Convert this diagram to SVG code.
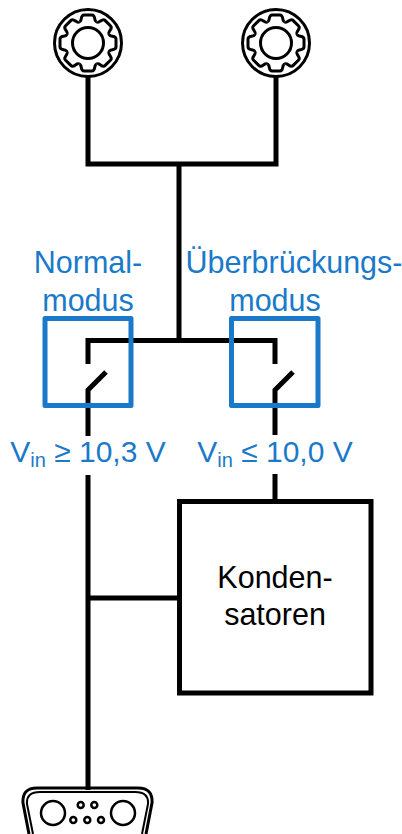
<svg xmlns="http://www.w3.org/2000/svg" xmlns:xlink="http://www.w3.org/1999/xlink" width="402" height="834" viewBox="0 0 402 834">
<style>
text{font-family:"Liberation Sans",Arial,sans-serif}
.b{fill:#1a7ac9;font-size:30.5px;text-anchor:middle}
.c{fill:#1a7ac9;font-size:30px;text-anchor:middle}
.k{fill:#000;font-size:30.5px;text-anchor:middle}
.w{fill:none;stroke:#000;stroke-width:5}
.s{fill:none;stroke:#1a7ac9;stroke-width:5;stroke-linejoin:round}
.g{fill:none;stroke:#000;stroke-width:3}
</style>
<defs>
<path id="t" class="g" d="M-8.8,-21.2C-5.5,-21.5-8,-28-4,-28L4,-28C8,-28 5.5,-21.5 8.8,-21.2"/>
<g id="gear">
<circle class="g" r="33.5"/><circle class="g" r="15.5"/>
<use xlink:href="#t"/><use xlink:href="#t" transform="rotate(45)"/><use xlink:href="#t" transform="rotate(90)"/><use xlink:href="#t" transform="rotate(135)"/><use xlink:href="#t" transform="rotate(180)"/><use xlink:href="#t" transform="rotate(225)"/><use xlink:href="#t" transform="rotate(270)"/><use xlink:href="#t" transform="rotate(315)"/>
</g>
</defs>
<g id="connectors">
<path class="w" d="M88,76V164H276V76M179,164V340M88,364V340.5H275V364"/>
<path class="w" d="M106,372L88,390V436M88,475V790M88,598H179"/>
<path class="w" d="M293,372L275,390V435M275,474V501"/>
</g>
<g id="gear-left"><use xlink:href="#gear" x="88" y="43"/></g>
<g id="gear-right"><use xlink:href="#gear" x="276" y="43"/></g>
<g id="switch-normal"><rect class="s" x="45" y="318.5" width="86" height="87"/>
<text class="b" x="88" y="273">Normal-</text><text class="b" x="88" y="311">modus</text></g>
<g id="switch-bypass"><rect class="s" x="231.5" y="318.5" width="86.5" height="87"/>
<text class="b" x="294" y="273">Überbrückungs-</text><text class="b" x="275" y="311">modus</text></g>
<g id="cond-left"><text class="c" x="88" y="462">V<tspan font-size="20" dy="5">in</tspan><tspan dy="-5"> ≥ 10,3 V</tspan></text></g>
<g id="cond-right"><text class="c" x="275" y="462">V<tspan font-size="20" dy="5">in</tspan><tspan dy="-5"> ≤ 10,0 V</tspan></text></g>
<g id="capacitors"><rect x="179.5" y="501.5" width="191.5" height="191.5" fill="none" stroke="#000" stroke-width="5"/>
<text class="k" x="275" y="588">Konden-</text><text class="k" x="275" y="625">satoren</text></g>
<g id="dsub">
<path fill="none" stroke="#000" stroke-width="3" d="M37,788H138Q153,788 152,803L146,834M37,788Q22,788 23,803L29,834"/>
<path fill="none" stroke="#000" stroke-width="2" d="M40,792H135Q149,792 148,804L142,834M40,792Q26,792 27,804L33,834"/>
<g fill="none" stroke="#000" stroke-width="2.5"><circle cx="53" cy="813" r="12"/><circle cx="123" cy="813" r="12"/>
<circle cx="80.7" cy="805" r="3"/><circle cx="94.3" cy="805" r="3"/><circle cx="73.3" cy="820" r="3"/><circle cx="87.3" cy="820" r="3"/><circle cx="101" cy="820" r="3"/></g>
</g>
</svg>
